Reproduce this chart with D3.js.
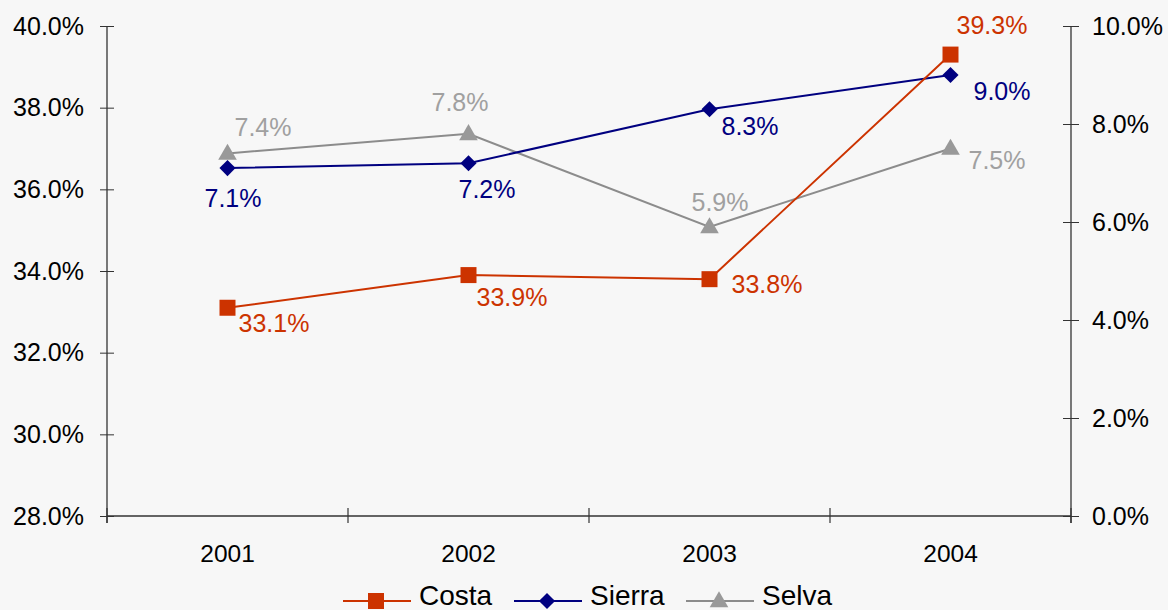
<!DOCTYPE html>
<html>
<head>
<meta charset="utf-8">
<script src="https://cdn.jsdelivr.net/npm/d3@7"></script>
<style>
    html, body { margin: 0; padding: 0; background: #f7f7f7; }
    svg { display: block; font-family: "Liberation Sans", Arial, sans-serif; }
</style>
</head>
<body>
<svg id="chart"></svg>
<script>
const years = ["2001", "2002", "2003", "2004"];
const costa = [33.1, 33.9, 33.8, 39.3];   // left axis
const sierra = [7.1, 7.2, 8.3, 9.0];      // right axis
const selva = [7.4, 7.8, 5.9, 7.5];       // right axis
const leftTicks = [28, 30, 32, 34, 36, 38, 40];
const rightTicks = [0, 2, 4, 6, 8, 10];

// label nudges relative to each point [dx, dy] (Excel placed these by hand)
const costaLabelNudge = [[11, 24], [8, 31], [22, 14], [6, -21]];
const sierraLabelNudge = [[-23, 39], [-10, 35], [12, 26], [23, 25]];
const selvaLabelNudge = [[7, -17], [-37, -23], [-18, -16], [18, 20]];

const width = 1168, height = 610;
const margin = { top: 26, right: 97, bottom: 94, left: 107 };
const innerW = width - margin.left - margin.right;
const innerH = height - margin.top - margin.bottom;

const svg = d3.select("#chart")
    .attr("width", width)
    .attr("height", height)
    .attr("viewBox", [0, 0, width, height]);

const g = svg.append("g")
    .attr("transform", `translate(${ margin.left },${ margin.top })`);

const xScale = d3.scaleBand().domain(years).range([0, innerW]);
const yLeft = d3.scaleLinear().domain([28, 40]).range([innerH, 0]);
const yRight = d3.scaleLinear().domain([0, 10]).range([innerH, 0]);
const cx = (i) => xScale(years[i]) + xScale.bandwidth() / 2;

const axisColor = "#333";
const fmt = (d) => d.toFixed(1) + "%";

// left axis
const gl = g.append("g")
    .call(d3.axisLeft(yLeft).tickValues(leftTicks).tickFormat(fmt).tickSize(7).tickSizeOuter(0));
gl.select(".domain").remove();
gl.selectAll(".tick line").attr("x1", -7).attr("x2", 7).attr("stroke", axisColor);
gl.selectAll(".tick text").attr("x", -23).attr("font-size", 25).attr("fill", "#000")
    .attr("font-family", "Liberation Sans, Arial, sans-serif");

// right axis
const gr = g.append("g")
    .attr("transform", `translate(${ innerW },0)`)
    .call(d3.axisRight(yRight).tickValues(rightTicks).tickFormat(fmt).tickSize(8).tickSizeOuter(0));
gr.select(".domain").remove();
gr.selectAll(".tick line").attr("x1", -8).attr("x2", 8).attr("stroke", axisColor);
gr.selectAll(".tick text").attr("x", 21).attr("font-size", 25).attr("fill", "#000")
    .attr("font-family", "Liberation Sans, Arial, sans-serif");

// bottom axis with year labels
const gb = g.append("g")
    .attr("transform", `translate(0,${ innerH })`)
    .call(d3.axisBottom(xScale).tickSize(0));
gb.select(".domain").remove();
gb.selectAll(".tick text").attr("y", 46).attr("dy", 0).attr("font-size", 24.5).attr("fill", "#000")
    .attr("font-family", "Liberation Sans, Arial, sans-serif");

// axis lines
g.append("line").attr("x1", 0).attr("x2", innerW).attr("y1", innerH).attr("y2", innerH)
    .attr("stroke", axisColor).attr("stroke-width", 1.3);
g.append("line").attr("x1", 0).attr("x2", 0).attr("y1", 0).attr("y2", innerH + 7)
    .attr("stroke", axisColor).attr("stroke-width", 1.3);
g.append("line").attr("x1", innerW).attr("x2", innerW).attr("y1", 0).attr("y2", innerH + 7)
    .attr("stroke", axisColor).attr("stroke-width", 1.3);

// category boundary ticks
const bounds = years.map((d) => xScale(d)).concat([innerW]);
g.append("g").selectAll("line")
    .data(bounds)
    .join("line")
    .attr("x1", (d) => d).attr("x2", (d) => d)
    .attr("y1", innerH - 8).attr("y2", innerH + 7)
    .attr("stroke", axisColor).attr("stroke-width", 1.2);

// square diamond (rotated square) like Excel's marker
const markerTransform = (s, x, y) => {
    if (s.symbol === "diamond") return `translate(${ x },${ y }) rotate(45)`;
    if (s.symbol === d3.symbolTriangle) return `translate(${ x },${ y + 1 })`;
    return `translate(${ x },${ y })`;
};
const markerPath = (s) => d3.symbol()
    .type(s.symbol === "diamond" ? d3.symbolSquare : s.symbol)
    .size(s.size)();

const series = [
    { name: "Costa", values: costa, y: yLeft, color: "#cc3300", line: "#cc3300", label: "#cc3300",
      symbol: d3.symbolSquare, size: 256, nudge: costaLabelNudge },
    { name: "Sierra", values: sierra, y: yRight, color: "#000080", line: "#000080", label: "#000080",
      symbol: "diamond", size: 130, nudge: sierraLabelNudge },
    { name: "Selva", values: selva, y: yRight, color: "#999999", line: "#8c8c8c", label: "#a0a0a0",
      symbol: d3.symbolTriangle, size: 150, nudge: selvaLabelNudge }
];

// draw in back-to-front order like the original (Selva under Sierra under Costa)
const drawOrder = [series[2], series[1], series[0]];
drawOrder.forEach((s) => {
    const line = d3.line()
        .x((d, i) => cx(i))
        .y((d) => s.y(d));
    g.append("path")
        .datum(s.values)
        .attr("fill", "none")
        .attr("stroke", s.line)
        .attr("stroke-width", 2)
        .attr("d", line);
    g.append("g").selectAll("path")
        .data(s.values)
        .join("path")
        .attr("transform", (d, i) => markerTransform(s, cx(i), s.y(d)))
        .attr("d", markerPath(s))
        .attr("fill", s.color);
});

series.forEach((s) => {
    g.append("g").selectAll("text")
        .data(s.values)
        .join("text")
        .attr("x", (d, i) => cx(i) + s.nudge[i][0])
        .attr("y", (d, i) => s.y(d) + s.nudge[i][1])
        .attr("font-size", 25)
        .attr("fill", s.label)
        .text((d) => fmt(d));
});

// legend
const legendItems = [
    { s: series[0], x: 343 },
    { s: series[1], x: 514 },
    { s: series[2], x: 686 }
];
const legendY = 601;
const leg = svg.append("g");
legendItems.forEach(({ s, x }) => {
    leg.append("line")
        .attr("x1", x).attr("x2", x + 68)
        .attr("y1", legendY).attr("y2", legendY)
        .attr("stroke", s.line).attr("stroke-width", 2);
    leg.append("path")
        .attr("transform", markerTransform(s, x + 33, legendY))
        .attr("d", markerPath(s))
        .attr("fill", s.color);
    leg.append("text")
        .attr("x", x + 76)
        .attr("y", legendY + 4)
        .attr("font-size", 28)
        .attr("fill", "#000")
        .text(s.name);
});
</script>
</body>
</html>
